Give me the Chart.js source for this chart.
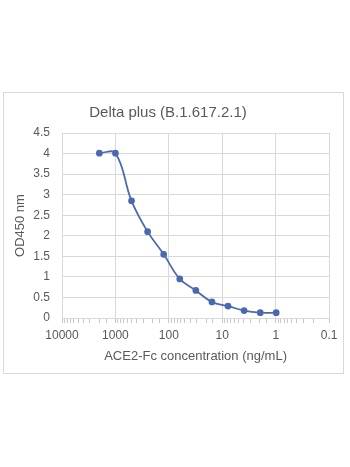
<!DOCTYPE html>
<html>
<head>
<meta charset="utf-8">
<script src="https://cdn.jsdelivr.net/npm/chart.js@4"></script>
<style>
  body { margin: 0; background: #fff; }
  #box {
    position: absolute; left: 3px; top: 92px;
    width: 339px; height: 280px;
    border: 1px solid #d9d9d9;
  }
</style>
</head>
<body>
<div id="box"><canvas id="chart" width="339" height="280"></canvas></div>
<script>
// ACE2-Fc dilution series (ng/mL) and OD450 readings
const concentrations = [2000, 1000, 500, 250, 125, 62.5, 31.25, 15.63, 7.81, 3.91, 1.95, 0.98];
const odValues = [4.01, 4.01, 2.85, 2.10, 1.55, 0.95, 0.67, 0.39, 0.29, 0.18, 0.13, 0.13];
const xTickLabels = ["0.1", "1", "10", "100", "1000", "10000"];

const TEXT = "#595959";
const FONT = "'Liberation Sans', Arial, sans-serif";

function isDecade(v) {
  const l = Math.log10(v);
  return Math.abs(l - Math.round(l)) < 1e-9;
}

const ctx = document.getElementById("chart");
new Chart(ctx, {
  type: "line",
  data: {
    datasets: [{
      data: concentrations.map((c, i) => ({ x: c, y: odValues[i] })),
      borderColor: "#4a69ae",
      backgroundColor: "#4a69ae",
      borderWidth: 1.75,
      pointRadius: 2.5,
      tension: 0.4,
      fill: false,
    }],
  },
  options: {
    responsive: false,
    animation: false,
    layout: { padding: { left: 0, right: 11, top: 0, bottom: 9 } },
    plugins: {
      legend: { display: false },
      tooltip: { enabled: false },
      title: {
        display: true,
        text: "Delta plus (B.1.617.2.1)",
        color: TEXT,
        font: { family: FONT, size: 15, weight: "normal" },
        padding: { top: 11, bottom: 11 },
      },
    },
    scales: {
      x: {
        type: "logarithmic",
        reverse: true,
        min: 0.1,
        max: 10000,
        border: { color: "#d9d9d9" },
        grid: {
          color: (c) => (c.tick && isDecade(c.tick.value) ? "#d9d9d9" : "rgba(0,0,0,0)"),
          tickColor: "#c8c8c8",
          tickLength: 5,
        },
        ticks: {
          autoSkip: false,
          maxRotation: 0,
          color: TEXT,
          font: { family: FONT, size: 12 },
          padding: 5.5,
          callback: (v) => {
            if (!isDecade(v)) return "";
            const s = String(v);
            return xTickLabels.includes(s) ? s : "";
          },
        },
        title: {
          display: true,
          text: "ACE2-Fc concentration (ng/mL)",
          color: TEXT,
          font: { family: FONT, size: 13 },
          padding: { top: 0, bottom: 0 },
        },
      },
      y: {
        min: 0,
        max: 4.5,
        border: { display: false },
        grid: { color: "#d9d9d9", drawTicks: false },
        afterFit: (s) => { s.width = 58; },
        ticks: {
          stepSize: 0.5,
          color: TEXT,
          font: { family: FONT, size: 12 },
          padding: 12,
          callback: (v) => String(Number(v)),
        },
        title: {
          display: true,
          text: "OD450 nm",
          color: TEXT,
          font: { family: FONT, size: 13 },
          padding: { top: 9, bottom: 0 },
        },
      },
    },
  },
});
</script>
</body>
</html>
